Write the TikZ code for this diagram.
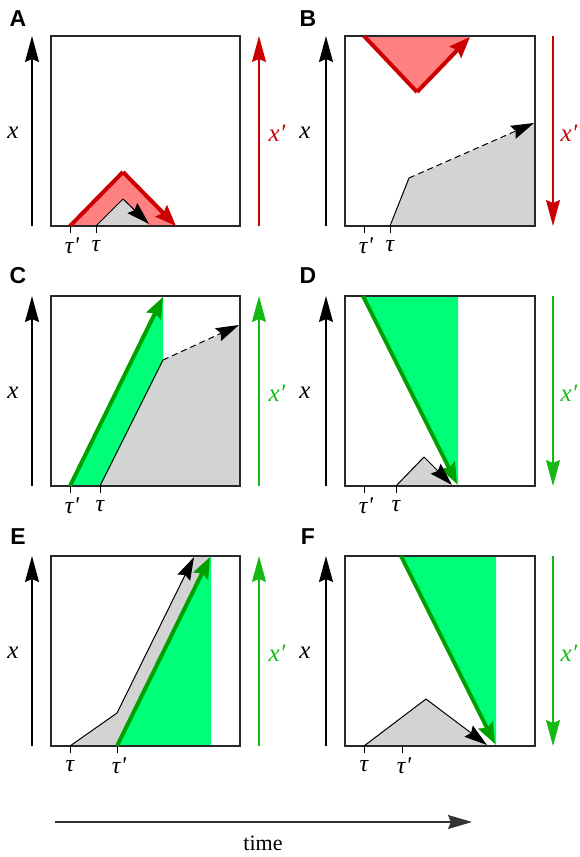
\documentclass[tikz,border=0pt]{standalone}
\usepackage{fontspec}
\setmainfont{Liberation Serif}
\newfontfamily\panelfont{Liberation Sans}
\usetikzlibrary{arrows.meta}
\definecolor{redline}{RGB}{204,0,0}
\definecolor{redfill}{RGB}{255,128,128}
\definecolor{greenline}{RGB}{0,160,0}
\definecolor{greenaxis}{RGB}{20,185,20}
\definecolor{greenfill}{RGB}{0,255,120}
\definecolor{grayfill}{RGB}{211,211,211}
\definecolor{boxcol}{RGB}{40,40,40}
\newcommand{\tp}{τ\kern0.5pt\textquotesingle}
\tikzset{
  panelbox/.style={draw=boxcol,line width=1.3pt},
  axisarrow/.style={line width=1.3pt,-{Stealth[length=26pt,width=14pt,inset=3pt]}},
  thickline/.style={line width=4pt,line join=miter},
  thickarrow/.style={line width=4pt,line join=miter,-{Stealth[length=21pt,width=16pt,inset=3pt]}},
  thinline/.style={line width=1pt,black},
  thinarrow/.style={line width=1pt,black,-{Stealth[length=23pt,width=14pt,inset=3pt]}},
  dasharrow/.style={line width=1pt,black,dash pattern=on 6pt off 4pt,-{Stealth[length=23pt,width=14pt,inset=3pt]}},
  tickmark/.style={line width=1pt,black},
  panellabel/.style={font=\panelfont\bfseries\fontsize{23}{26}\selectfont,inner sep=0pt},
  xlabel/.style={font=\itshape\fontsize{25}{27}\selectfont,inner sep=0pt},
  taulabel/.style={font=\itshape\fontsize{24}{26}\selectfont,inner sep=0pt},
}
\begin{document}
\begin{tikzpicture}[x=1pt,y=-1pt]
\useasboundingbox (0,0) rectangle (580,857);

% ================= Panel A =================
\fill[redfill] (70,226) -- (123,172) -- (176,226) -- cycle;
\fill[grayfill] (96,226) -- (123,199) -- (149,226) -- cycle;
\node[panelbox,minimum width=189pt,minimum height=190pt,inner sep=0pt] (boxA) at (145.5,131) {};
\draw[thickline,redline] (70,226) -- (123,172);
\draw[thickarrow,redline] (123,172) -- (176,226);
\draw[thinline] (96,226) -- (123,199);
\draw[thinarrow] (123,199) -- (149,224);
\coordinate (aA0) at (32,226); \coordinate (aA1) at (32,36);
\draw[axisarrow] (aA0) -- (aA1);
\coordinate (rA0) at (259,226); \coordinate (rA1) at (259,36);
\draw[axisarrow,redline] (rA0) -- (rA1);
\node[panellabel] (labA) at (18,19) {A};
\node[xlabel] (xA) at (13,133) {x};
\node[xlabel,text=redline] (xpA) at (277,133) {x′};
\draw[tickmark] (70,226) -- (70,233);
\draw[tickmark] (96,226) -- (96,233);
\node[taulabel] (tpA) at (72,246) {\tp};
\node[taulabel] (tA) at (96,246) {τ};

% ================= Panel B =================
\fill[redfill] (364,36) -- (417,92) -- (470,36) -- cycle;
\fill[grayfill] (390,226) -- (409,178) -- (535,123) -- (535,226) -- cycle;
\node[panelbox,minimum width=190pt,minimum height=190pt,inner sep=0pt] (boxB) at (440,131) {};
\draw[thickline,redline] (364,36) -- (417,92);
\draw[thickarrow,redline] (417,92) -- (470,37);
\draw[thinline] (390,226) -- (409,178);
\draw[dasharrow] (409,178) -- (534,123);
\coordinate (aB0) at (326,226); \coordinate (aB1) at (326,36);
\draw[axisarrow] (aB0) -- (aB1);
\coordinate (rB0) at (553,36); \coordinate (rB1) at (553,226);
\draw[axisarrow,redline] (rB0) -- (rB1);
\node[panellabel] (labB) at (308,19) {B};
\node[xlabel] (xB) at (305,133) {x};
\node[xlabel,text=redline] (xpB) at (569,133) {x′};
\draw[tickmark] (364,226) -- (364,233);
\draw[tickmark] (390,226) -- (390,233);
\node[taulabel] (tpB) at (366,246) {\tp};
\node[taulabel] (tB) at (390,246) {τ};

% ================= Panel C =================
\fill[greenfill] (70,486) -- (163,296) -- (163,360) -- (100,486) -- cycle;
\fill[grayfill] (100,486) -- (163,360) -- (240,325) -- (240,486) -- cycle;
\node[panelbox,minimum width=189pt,minimum height=190pt,inner sep=0pt] (boxC) at (145.5,391) {};
\draw[thickarrow,greenline] (70,486) -- (163,297);
\draw[thinline] (100,486) -- (163,360);
\draw[dasharrow] (163,360) -- (239,325);
\coordinate (aC0) at (32,486); \coordinate (aC1) at (32,296);
\draw[axisarrow] (aC0) -- (aC1);
\coordinate (gC0) at (259,486); \coordinate (gC1) at (259,296);
\draw[axisarrow,greenaxis] (gC0) -- (gC1);
\node[panellabel] (labC) at (18,276) {C};
\node[xlabel] (xC) at (13,393) {x};
\node[xlabel,text=greenaxis] (xpC) at (277,393) {x′};
\draw[tickmark] (70,486) -- (70,493);
\draw[tickmark] (100,486) -- (100,493);
\node[taulabel] (tpC) at (72,506) {\tp};
\node[taulabel] (tC) at (100,506) {τ};

% ================= Panel D =================
\fill[greenfill] (363,296) -- (458,296) -- (458,486) -- cycle;
\fill[grayfill] (396,486) -- (424,457) -- (452,486) -- cycle;
\node[panelbox,minimum width=190pt,minimum height=190pt,inner sep=0pt] (boxD) at (440,391) {};
\draw[thickarrow,greenline] (363,296) -- (457,484);
\draw[thinline] (396,486) -- (424,457);
\draw[thinarrow] (424,457) -- (452,485);
\coordinate (aD0) at (326,486); \coordinate (aD1) at (326,296);
\draw[axisarrow] (aD0) -- (aD1);
\coordinate (gD0) at (553,296); \coordinate (gD1) at (553,486);
\draw[axisarrow,greenaxis] (gD0) -- (gD1);
\node[panellabel] (labD) at (308,276) {D};
\node[xlabel] (xD) at (305,393) {x};
\node[xlabel,text=greenaxis] (xpD) at (569,393) {x′};
\draw[tickmark] (364,486) -- (364,493);
\draw[tickmark] (396,486) -- (396,493);
\node[taulabel] (tpD) at (366,506) {\tp};
\node[taulabel] (tD) at (396,506) {τ};

% ================= Panel E =================
\fill[grayfill] (70,746) -- (117,713) -- (194,556) -- (211,556) -- (117,746) -- cycle;
\fill[greenfill] (117,746) -- (211,556) -- (211,746) -- cycle;
\node[panelbox,minimum width=189pt,minimum height=190pt,inner sep=0pt] (boxE) at (145.5,651) {};
\draw[thinline] (70,746) -- (117,713);
\draw[thinarrow] (117,713) -- (194,557);
\draw[thickarrow,greenline] (117,746) -- (210,557);
\coordinate (aE0) at (32,746); \coordinate (aE1) at (32,556);
\draw[axisarrow] (aE0) -- (aE1);
\coordinate (gE0) at (259,746); \coordinate (gE1) at (259,556);
\draw[axisarrow,greenaxis] (gE0) -- (gE1);
\node[panellabel] (labE) at (18,537) {E};
\node[xlabel] (xE) at (13,653) {x};
\node[xlabel,text=greenaxis] (xpE) at (277,653) {x′};
\draw[tickmark] (70,746) -- (70,753);
\draw[tickmark] (117,746) -- (117,753);
\node[taulabel] (tE) at (70,766) {τ};
\node[taulabel] (tpE) at (119,766) {\tp};

% ================= Panel F =================
\fill[greenfill] (401,556) -- (496,556) -- (496,746) -- cycle;
\fill[grayfill] (364,746) -- (426,699) -- (487,746) -- cycle;
\node[panelbox,minimum width=190pt,minimum height=190pt,inner sep=0pt] (boxF) at (440,651) {};
\draw[thickarrow,greenline] (401,556) -- (495,744);
\draw[thinline] (364,746) -- (426,699);
\draw[thinarrow] (426,699) -- (487,745);
\coordinate (aF0) at (326,746); \coordinate (aF1) at (326,556);
\draw[axisarrow] (aF0) -- (aF1);
\coordinate (gF0) at (553,556); \coordinate (gF1) at (553,746);
\draw[axisarrow,greenaxis] (gF0) -- (gF1);
\node[panellabel] (labF) at (308,537) {F};
\node[xlabel] (xF) at (305,653) {x};
\node[xlabel,text=greenaxis] (xpF) at (569,653) {x′};
\draw[tickmark] (364,746) -- (364,753);
\draw[tickmark] (402,746) -- (402,753);
\node[taulabel] (tF) at (364,766) {τ};
\node[taulabel] (tpF) at (404,766) {\tp};

% ================= time axis =================
\coordinate (t0) at (55,822); \coordinate (t1) at (472,822);
\draw[line width=1.3pt,black!80,-{Stealth[length=24pt,width=14pt,inset=3pt]}] (t0) -- (t1);
\node[font=\fontsize{22}{24}\selectfont,inner sep=0pt] (time) at (263,843) {time};
\end{tikzpicture}
\end{document}
